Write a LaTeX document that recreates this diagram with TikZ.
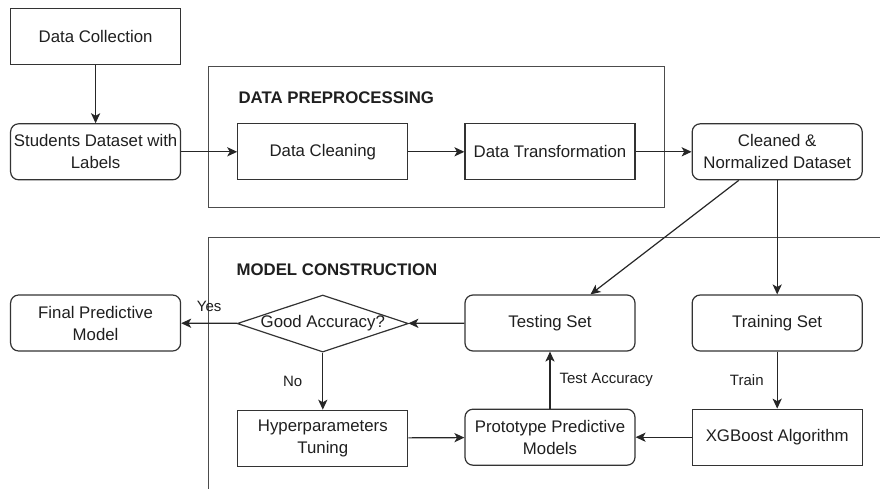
\documentclass[tikz,border=0pt]{standalone}
\usepackage{fontspec}
\setmainfont{Liberation Sans}
\usetikzlibrary{positioning,arrows.meta,shapes.geometric,calc}

\begin{document}
\begin{tikzpicture}[
        font=\fontsize{8.4pt}{11pt}\selectfont,
        text=black!88,
        node distance=29pt and 28pt,
        flow/.style={-{Stealth[length=5pt, width=4.6pt, inset=1.3pt]}, line width=0.6pt, draw=black!85},
        plainbox/.style={
            rectangle,
            draw=black!80,
            line width=0.6pt,
            minimum width=85pt,
            minimum height=28pt,
            align=center,
            inner sep=1pt
        },
        roundbox/.style={plainbox, rounded corners=4pt},
        decision/.style={
            diamond,
            aspect=3,
            draw=black!80,
            line width=0.6pt,
            minimum width=85pt,
            minimum height=28pt,
            inner sep=0pt,
            align=center
        },
        container/.style={draw=black!70, line width=0.6pt},
        heading/.style={font=\fontsize{8.4pt}{11pt}\selectfont\bfseries, anchor=west, inner sep=0pt},
        edgelabel/.style={font=\fontsize{7.5pt}{9pt}\selectfont, inner sep=1pt}
    ]

    \node[plainbox] (collect) {Data Collection};
    \node[roundbox, below=of collect] (students) {Students Dataset with\\Labels};
    \node[plainbox, right=of students] (clean) {Data Cleaning};
    \node[plainbox, right=of clean] (transform) {Data Transformation};
    \node[roundbox, right=of transform] (cleaned) {Cleaned \&\\Normalized Dataset};

    \node[roundbox, below=57pt of students] (final) {Final Predictive\\Model};
    \node[decision, below=57pt of clean] (accuracy) {Good Accuracy?};
    \node[roundbox, below=57pt of transform] (testing) {Testing Set};
    \node[roundbox, below=57pt of cleaned] (training) {Training Set};

    \node[plainbox, below=28.5pt of accuracy] (tuning) {Hyperparameters\\Tuning};
    \node[roundbox, below=28.5pt of testing] (proto) {Prototype Predictive\\Models};
    \node[plainbox, below=28.5pt of training] (xgboost) {XGBoost Algorithm};

    \coordinate (frametl) at ($(collect.north west)+(-5pt,4pt)$);
    \coordinate (framebr) at ($(frametl)+(440pt,-244.5pt)$);
    \useasboundingbox (frametl) rectangle (framebr);

    \draw[container] ($(clean.north west)+(-14.5pt,28.5pt)$) rectangle ($(transform.south east)+(14.5pt,-13.5pt)$);
    \node[heading] (prephead) at ($(clean.north west)+(0.5pt,12.5pt)$) {DATA PREPROCESSING};

    \coordinate (mc) at ($(clean.west |- testing.north)+(-14.5pt,28.5pt)$);
    \draw[container] (framebr |- mc) -- (mc) -- (mc |- framebr);
    \node[heading] (modelhead) at ($(clean.west |- testing.north)+(-0.5pt,12.5pt)$) {MODEL CONSTRUCTION};

    \draw[flow] (collect) -- (students);
    \draw[flow] (students) -- (clean);
    \draw[flow] (clean) -- (transform);
    \draw[flow] (transform) -- (cleaned);
    \draw[flow] ($(cleaned.south)+(-19.25pt,0)$) -- ($(testing.north)+(20.25pt,0)$);
    \draw[flow] (cleaned) -- (training);
    \draw[flow] (testing) -- (accuracy);
    \draw[flow] (accuracy) -- node[above=4.5pt, edgelabel] {Yes} (final);
    \draw[flow] (accuracy) -- node[left=9pt, edgelabel] {No} (tuning);
    \draw[flow] (tuning) -- (proto);
    \draw[flow] (xgboost) -- (proto);
    \draw[flow] (proto) -- node[right=3.5pt, edgelabel] {Test Accuracy} (testing);
    \draw[flow] (training) -- node[left=5.5pt, edgelabel] {Train} (xgboost);

\end{tikzpicture}
\end{document}
